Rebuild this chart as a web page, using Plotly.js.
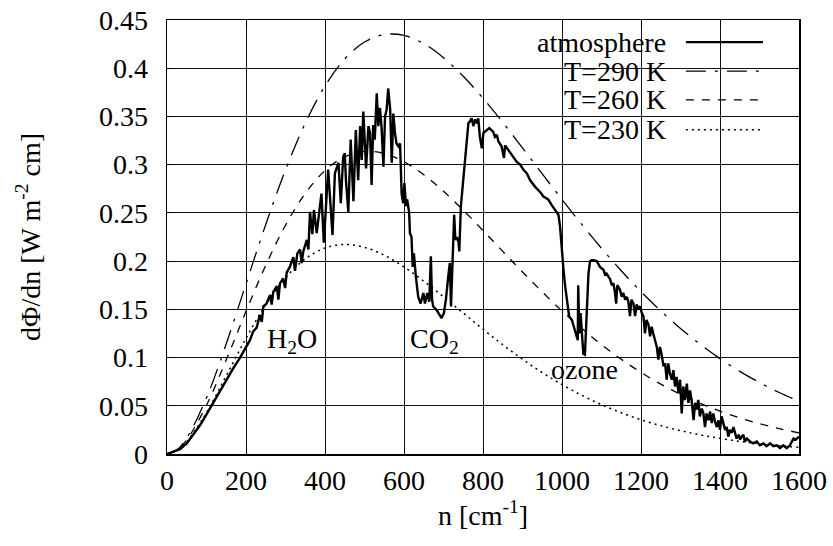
<!DOCTYPE html>
<html><head><meta charset="utf-8">
<script src="https://cdn.plot.ly/plotly-3.0.1.min.js"></script>
<style>html,body{margin:0;padding:0;background:#fff}#plot{width:833px;height:546px}</style>
</head><body><div id="plot"></div>
<script>
// Planck curves (wavenumber grid, cm^-1)
const planckN = [0,25,50,100,150,200,250,300,350,400,450,500,550,600,650,700,750,800,850,900,950,1000,1050,1100,1150,1200,1250,1300,1350,1400,1450,1500,1550,1600];
const planck290 = [0,0.0044,0.0166,0.0583,0.1143,0.1764,0.2380,0.2945,0.3430,0.3816,0.4096,0.4272,0.4349,0.4340,0.4255,0.4109,0.3916,0.3689,0.3438,0.3174,0.2905,0.2639,0.2380,0.2133,0.1900,0.1683,0.1484,0.1302,0.1137,0.0989,0.0857,0.0741,0.0638,0.0547];
const planck260 = [0,0.0039,0.0147,0.0506,0.0976,0.1479,0.1956,0.2372,0.2702,0.2939,0.3082,0.3137,0.3116,0.3031,0.2896,0.2724,0.2528,0.2317,0.2101,0.1887,0.1680,0.1484,0.1302,0.1134,0.0982,0.0846,0.0725,0.0618,0.0525,0.0444,0.0374,0.0314,0.0263,0.0219];
const planck230 = [0,0.0035,0.0127,0.0430,0.0812,0.1200,0.1548,0.1826,0.2023,0.2136,0.2173,0.2143,0.2061,0.1940,0.1792,0.1630,0.1461,0.1294,0.1133,0.0982,0.0844,0.0720,0.0609,0.0512,0.0428,0.0355,0.0294,0.0242,0.0198,0.0162,0.0131,0.0106,0.0086,0.0069];

// Atmosphere spectrum
const atmN = [0,33,50,67,84,100,117,134,151,168,185,200,210,218,227,235,240,244,252,261,265,269,278,282,286,294,299,303,311,316,320,324,330,337,341,345,354,358,362,368,372,379,386,391,397,408,419,425,434,440,446,450,453,459,465,472,478,484,489,493,497,504,510,514,518,522,526,531,535,539,543,548,552,556,560,565,569,573,577,581,586,590,594,598,601,605,608,613,615,619,622,625,630,636,642,649,653,659,664,668,671,674,683,691,695,701,706,712,716,719,722,725,727,730,734,738,740,744,749,754,759,763,767,771,776,780,784,788,792,797,801,809,816,826,830,835,839,847,853,856,864,873,885,894,902,911,919,932,944,953,965,974,982,991,995,1000,1004,1008,1012,1018,1025,1030,1035,1040,1041,1044,1047,1051,1054,1058,1062,1067,1071,1075,1079,1088,1096,1105,1109,1113,1122,1126,1130,1134,1137,1140,1147,1151,1155,1160,1164,1168,1172,1176,1181,1185,1189,1193,1198,1202,1206,1210,1214,1219,1223,1227,1231,1236,1240,1244,1248,1252,1257,1261,1265,1269,1273,1278,1282,1286,1290,1295,1299,1303,1307,1311,1316,1320,1324,1328,1333,1337,1341,1345,1349,1354,1358,1362,1366,1371,1375,1379,1383,1387,1392,1396,1400,1404,1409,1413,1417,1421,1425,1430,1434,1438,1442,1447,1451,1455,1459,1463,1468,1476,1484,1493,1501,1510,1518,1527,1535,1544,1552,1560,1569,1577,1582,1586,1592,1600];
const atmV = [0,0.005,0.011,0.020,0.030,0.041,0.053,0.065,0.078,0.089,0.100,0.110,0.118,0.127,0.131,0.144,0.137,0.153,0.156,0.165,0.155,0.168,0.174,0.160,0.177,0.182,0.172,0.188,0.194,0.200,0.204,0.190,0.208,0.212,0.198,0.210,0.222,0.212,0.251,0.228,0.253,0.229,0.250,0.270,0.219,0.295,0.227,0.291,0.302,0.260,0.308,0.312,0.284,0.251,0.326,0.262,0.336,0.284,0.340,0.305,0.355,0.296,0.340,0.333,0.279,0.341,0.326,0.374,0.340,0.359,0.340,0.298,0.350,0.357,0.379,0.357,0.302,0.353,0.333,0.322,0.319,0.322,0.270,0.260,0.281,0.257,0.264,0.250,0.229,0.225,0.194,0.208,0.184,0.163,0.156,0.167,0.156,0.167,0.158,0.205,0.160,0.153,0.149,0.144,0.141,0.146,0.160,0.184,0.198,0.153,0.187,0.236,0.248,0.222,0.225,0.220,0.210,0.257,0.281,0.298,0.322,0.343,0.345,0.348,0.340,0.347,0.343,0.348,0.329,0.317,0.333,0.336,0.338,0.334,0.329,0.331,0.324,0.319,0.307,0.320,0.315,0.310,0.303,0.300,0.295,0.291,0.284,0.277,0.272,0.267,0.264,0.258,0.253,0.248,0.236,0.205,0.190,0.174,0.160,0.143,0.139,0.132,0.125,0.118,0.175,0.125,0.146,0.125,0.104,0.103,0.142,0.187,0.200,0.201,0.201,0.200,0.194,0.191,0.186,0.187,0.181,0.175,0.177,0.168,0.156,0.175,0.170,0.163,0.167,0.160,0.163,0.158,0.143,0.160,0.156,0.143,0.155,0.151,0.153,0.146,0.143,0.125,0.139,0.134,0.122,0.132,0.125,0.118,0.111,0.098,0.111,0.104,0.091,0.094,0.077,0.094,0.084,0.077,0.087,0.070,0.080,0.063,0.077,0.042,0.070,0.056,0.073,0.053,0.066,0.056,0.035,0.053,0.046,0.056,0.039,0.047,0.042,0.028,0.042,0.035,0.044,0.032,0.042,0.034,0.028,0.035,0.025,0.039,0.032,0.025,0.028,0.018,0.025,0.022,0.028,0.023,0.016,0.020,0.015,0.018,0.020,0.013,0.016,0.013,0.011,0.013,0.009,0.011,0.008,0.011,0.008,0.009,0.006,0.009,0.006,0.009,0.013,0.016,0.015,0.018];

const legendNames = ['atmosphere','T=290 K','T=260 K','T=230 K'];
const yTickVals = [0,0.05,0.1,0.15,0.2,0.25,0.3,0.35,0.4,0.45];
const yTickText = ['0','0.05','0.1','0.15','0.2','0.25','0.3','0.35','0.4','0.45'];
const xTickVals = [0,200,400,600,800,1000,1200,1400,1600];
const bandLabels = ['H<sub>2</sub>O','CO<sub>2</sub>','ozone'];
const bandX = [316,676,1056];
const bandY = [0.118,0.118,0.088];

const FONT = '"Liberation Serif", "Times New Roman", serif';
const FS = 28;
const dashes = ['solid','20px,9px,3px,9px','8px,8px','2px,4px'];
const widths = [2.4,1.3,1.3,1.5];

const traces = [
  {x: planckN, y: planck290, mode:'lines', line:{color:'#000', width:widths[1], dash:dashes[1], shape:'spline'}, showlegend:false, name:legendNames[1]},
  {x: planckN, y: planck260, mode:'lines', line:{color:'#000', width:widths[2], dash:dashes[2], shape:'spline'}, showlegend:false, name:legendNames[2]},
  {x: planckN, y: planck230, mode:'lines', line:{color:'#000', width:widths[3], dash:dashes[3], shape:'spline'}, showlegend:false, name:legendNames[3]},
  {x: atmN, y: atmV, mode:'lines', line:{color:'#000', width:widths[0]}, showlegend:false, name:legendNames[0]}
];

const rowY = [0.949,0.882,0.816,0.747];
const shapes = [
  {type:'rect', xref:'paper', yref:'paper', x0:0.514, x1:0.973, y0:0.712, y1:1, fillcolor:'#fff', line:{width:0}, layer:'between'}
];
const annotations = [];
legendNames.forEach((nm,i)=>{
  annotations.push({xref:'paper', yref:'paper', x:0.792, y:rowY[i], xanchor:'right', yanchor:'middle', text:nm, showarrow:false, font:{family:FONT, size:FS, color:'#000'}});
  shapes.push({type:'line', xref:'paper', yref:'paper', x0:0.821, x1:0.943, y0:rowY[i], y1:rowY[i], line:{color:'#000', width:widths[i], dash:dashes[i]}, layer:'above'});
});
bandLabels.forEach((t,i)=>{
  annotations.push({x:bandX[i], y:bandY[i], xref:'x', yref:'y', text:t, showarrow:false, xanchor:'center', yanchor:'middle', font:{family:FONT, size:FS, color:'#000'}});
});

const axisCommon = {
  showline:true, mirror:'allticks', linecolor:'#000', linewidth:1.5,
  ticks:'inside', ticklen:7, tickcolor:'#000', tickwidth:1,
  showgrid:true, gridcolor:'#111', gridwidth:1, zeroline:false,
  tickfont:{family:FONT, size:FS, color:'#000'}
};

const layout = {
  width:833, height:546,
  margin:{l:167, r:34, t:20, b:92},
  paper_bgcolor:'#fff', plot_bgcolor:'#fff',
  font:{family:FONT, size:FS, color:'#000'},
  xaxis: Object.assign({}, axisCommon, {range:[0,1600], tickmode:'array', tickvals:xTickVals, ticklabelstandoff:1,
    title:{text:'n [cm<sup>-1</sup>]', font:{family:FONT, size:FS, color:'#000'}, standoff:8}}),
  yaxis: Object.assign({}, axisCommon, {range:[0,0.45], tickmode:'array', tickvals:yTickVals, ticktext:yTickText, ticklabelstandoff:12,
    title:{text:'dΦ/dn [W m<sup>-2</sup> cm]', font:{family:FONT, size:FS, color:'#000'}, standoff:50}}),
  shapes: shapes,
  annotations: annotations,
  showlegend:false
};

Plotly.newPlot('plot', traces, layout, {staticPlot:true, displayModeBar:false});
</script>
</body></html>
